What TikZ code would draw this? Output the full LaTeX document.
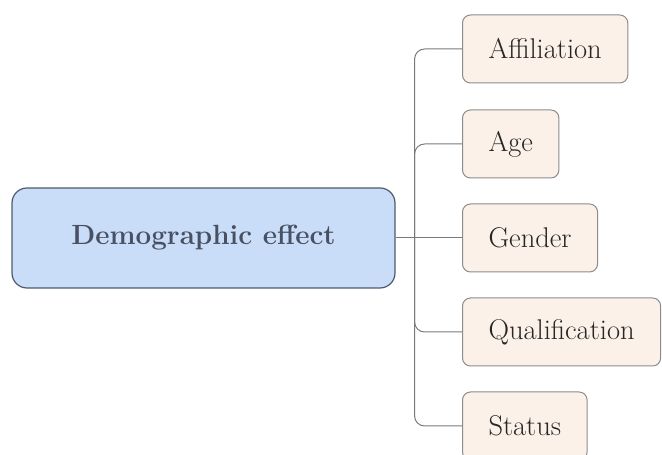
\documentclass[tikz,border=0pt]{standalone}
\usepackage{tikz}
\usetikzlibrary{positioning}
\definecolor{rootfill}{HTML}{C9DDF8}
\definecolor{rootline}{HTML}{4E5A6C}
\definecolor{roottext}{HTML}{485062}
\definecolor{leaffill}{HTML}{FBF1E8}
\definecolor{leafline}{HTML}{8C8C8C}
\definecolor{branch}{HTML}{7A7A7A}

\begin{document}
\begin{tikzpicture}[x=1pt,y=1pt,
                rootbox/.style={
                  draw=rootline, fill=rootfill, line width=1.2pt,
                  rounded corners=15pt, minimum width=383pt, minimum height=100pt,
                  text=roottext, font=\fontsize{27.8}{33}\selectfont\bfseries
                },
                leafbox/.style={
                  draw=leafline, fill=leaffill, line width=1pt,
                  rounded corners=8pt, minimum height=68pt, inner xsep=26pt,
                  anchor=west, text=black!85, font=\fontsize{28.5}{33}\selectfont
                },
                link/.style={draw=branch, line width=1pt, rounded corners=10pt}
                ]
                \clip (0,0) rectangle (662,455);
                \useasboundingbox (0,0) rectangle (662,455);
                % root
                \node [rootbox] (root) at (203.5,217) {Demographic effect};
                % leaves
                \node [leafbox] (aff) at (462,406) {Affiliation};
                \node [leafbox] (age) at (462,311) {Age};
                \node [leafbox] (gen) at (462,217) {Gender};
                \node [leafbox] (qua) at (462,123) {Qualification};
                \node [leafbox] (sta) at (462,29) {Status};
                % branches
                \coordinate (fork) at ([xshift=19pt]root.east);
                \draw [link] (root.east) -- (gen.west);
                \foreach \leaf in {aff,age,qua,sta}
                  \draw [link] (fork) |- (\leaf.west);
\end{tikzpicture}
\end{document}
